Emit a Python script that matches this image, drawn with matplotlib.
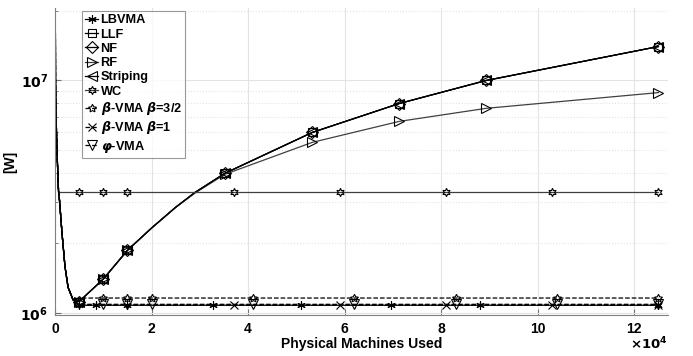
import numpy as np
import matplotlib
matplotlib.use("Agg")
import matplotlib.pyplot as plt

plt.rcParams['font.family'] = ['Liberation Sans', 'DejaVu Sans']
plt.rcParams['font.weight'] = 'bold'

# steep start shared by every strategy except WC
head_x = [50, 100, 145, 400, 725, 930, 1450, 2070, 2700, 3730]
head_y = [2.5e7, 1.0e7, 8.2e6, 5.0e6, 3.35e6, 3.05e6, 2.2e6, 1.58e6, 1.29e6, 1.14e6]

# LLF / NF / Striping (overlapping)
rise_x = [5000, 10000, 15000, 20000, 25000, 29000, 35200, 53300, 71300, 89300, 125000]
rise_y = [1.12e6, 1.40e6, 1.86e6, 2.32e6, 2.85e6, 3.3e6, 3.99e6, 5.98e6, 7.96e6, 1.0e7, 1.40e7]
rise_marks = [5000, 10000, 15000, 35200, 53300, 71300, 89300, 125000]

rf_x = [5000, 10000, 15000, 20000, 25000, 29000, 35200, 53300, 71300, 89300, 125000]
rf_y = [1.12e6, 1.40e6, 1.86e6, 2.32e6, 2.85e6, 3.28e6, 3.95e6, 5.42e6, 6.67e6, 7.59e6, 8.87e6]

wc_x = [700, 5000, 10000, 15000, 37000, 59000, 81000, 103000, 125000]
wc_y = [3.3e6] * len(wc_x)

lbvma_x = [5000, 8500, 15000, 32700, 51000, 69600, 88000, 125000]
lbvma_y = [1.08e6] * len(lbvma_x)

beta32_x = [5000, 10000, 15000, 20000, 41000, 62000, 83000, 104000, 125000]
beta32_y = [1.16e6] * len(beta32_x)

beta1_x = [5000, 10000, 15000, 37000, 59000, 81000, 103000, 125000]
beta1_y = [1.08e6] * len(beta1_x)

phi_x = [5000, 10000, 15000, 20000, 41000, 62000, 83000, 104000, 125000]
phi_y = [1.09e6] * len(phi_x)

xticks = [0, 20000, 40000, 60000, 80000, 100000, 120000]
xticklabels = ['0', '2', '4', '6', '8', '10', '12']


def with_head(xs, ys):
    return np.array(head_x + xs), np.array(head_y + ys)


fig = plt.figure(figsize=(6.93, 3.56), dpi=100)
ax = fig.add_axes([0.0794, 0.115, 0.8846, 0.8625])

# (label, x, y, marker positions, linestyle, marker, colour, use head)
series = [
    ('LBVMA', lbvma_x, lbvma_y, lbvma_x, '-', (6, 2, 0), 'black', True),
    ('LLF', rise_x, rise_y, rise_marks, '-', 's', 'black', True),
    ('NF', rise_x, rise_y, rise_marks, '-', 'D', 'black', True),
    ('RF', rf_x, rf_y, rise_marks, '-', '>', '#404040', True),
    ('Striping', rise_x, rise_y, rise_marks, '-', '<', 'black', True),
    ('WC', wc_x, wc_y, wc_x[1:], '-', (6, 1, 0), '#404040', False),
    (r'$\beta$-VMA $\beta$=3/2', beta32_x, beta32_y, beta32_x[1:], '--', (5, 1, 0), 'black', True),
    (r'$\beta$-VMA $\beta$=1', beta1_x, beta1_y, beta1_x[3:], '--', 'x', 'black', True),
    (r'$\varphi$-VMA', phi_x, phi_y, phi_x[1:], '--', 'v', 'black', True),
]

for label, xs, ys, marks, ls, m, c, use_head in series:
    if use_head:
        x, y = with_head(xs, ys)
    else:
        x, y = np.array(xs), np.array(ys)
    idx = list(np.where(np.isin(x, marks))[0])
    ms = 7 if m in ('v', '>', '<') else 6
    ax.plot(x, y, linestyle=ls, color=c, lw=0.9, marker=m, markevery=idx,
            mfc='none', mec='black', ms=ms, mew=0.8, label=label)

ax.set_yscale('log')
ax.set_xlim(0, 127000)
ax.set_ylim(0.98e6, 2.05e7)

ax.set_xticks(xticks)
ax.set_xticklabels(xticklabels, fontsize=10, fontweight='bold')
ax.set_yticks([1e6, 1e7])
ax.set_yticklabels([r'$\mathbf{10^{6}}$', r'$\mathbf{10^{7}}$'], fontsize=10)
ax.tick_params(which='both', direction='in', length=4, color='#707070', pad=5)
ax.tick_params(which='minor', length=2)

ax.grid(True, which='major', color='#e3e3e3', lw=0.8)
ax.grid(True, which='minor', axis='y', color='#e3e3e3', lw=0.8, ls=':')
ax.set_axisbelow(True)

for s in ('top', 'right'):
    ax.spines[s].set_visible(False)
for s in ('left', 'bottom'):
    ax.spines[s].set_color('#808080')

ax.set_xlabel('Physical Machines Used', fontsize=10, fontweight='bold', labelpad=1)
ax.set_ylabel('[W]', fontsize=10, fontweight='bold')
ax.yaxis.set_label_coords(-0.062, 0.5)
ax.text(1.0, -0.112, r'$\times\mathbf{10^{4}}$', transform=ax.transAxes,
        ha='right', va='baseline', fontsize=9.5)

leg = ax.legend(loc='upper left', bbox_to_anchor=(0.044, 0.99), fontsize=9.2,
                handlelength=1.0, handletextpad=0.2, labelspacing=0.18,
                borderpad=0.25, borderaxespad=0, frameon=True, fancybox=False)
leg.get_frame().set_edgecolor('#808080')
leg.get_frame().set_linewidth(0.8)
for t in leg.get_texts():
    t.set_fontweight('bold')

fig.savefig('out.png', dpi=100)
